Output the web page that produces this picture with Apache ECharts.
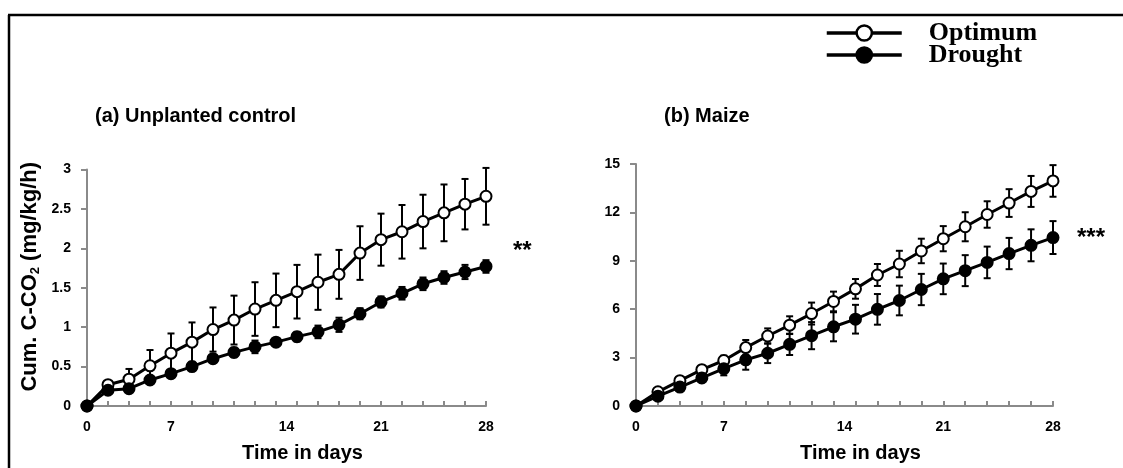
<!DOCTYPE html>
<html>
<head>
<meta charset="utf-8">
<script src="https://cdn.jsdelivr.net/npm/echarts@6/dist/echarts.min.js"></script>
<style>
  html, body { margin: 0; padding: 0; background: #fff; }
  #chart { width: 1123px; height: 468px; }
</style>
</head>
<body>
<div id="chart"></div>
<script>
// sampling points (20 per series), labelled on the axis as days
const sampleIdx = [0, 1, 2, 3, 4, 5, 6, 7, 8, 9, 10, 11, 12, 13, 14, 15, 16, 17, 18, 19]
const dayTickAt = [0, 4, 9.5, 14, 19]
const dayTickText = ['0', '7', '14', '21', '28']

// (a) Unplanted control
const ctrlOptimum = [0, 0.27, 0.34, 0.51, 0.67, 0.81, 0.97, 1.09, 1.23, 1.34, 1.45, 1.57, 1.67, 1.94, 2.11, 2.21, 2.34, 2.45, 2.56, 2.66]
const ctrlOptimumErr = [0, 0.04, 0.13, 0.2, 0.25, 0.25, 0.28, 0.31, 0.34, 0.34, 0.34, 0.35, 0.31, 0.34, 0.33, 0.34, 0.34, 0.36, 0.32, 0.36]
const ctrlDrought = [0, 0.2, 0.22, 0.33, 0.41, 0.5, 0.6, 0.68, 0.75, 0.81, 0.88, 0.94, 1.03, 1.17, 1.32, 1.43, 1.55, 1.63, 1.7, 1.77]
const ctrlDroughtErr = [0, 0.03, 0.03, 0.04, 0.05, 0.05, 0.05, 0.06, 0.08, 0.05, 0.06, 0.08, 0.09, 0.07, 0.07, 0.08, 0.08, 0.08, 0.09, 0.08]

// (b) Maize
const maizeOptimum = [0, 0.88, 1.57, 2.25, 2.82, 3.62, 4.34, 5.01, 5.73, 6.48, 7.26, 8.12, 8.8, 9.61, 10.37, 11.11, 11.87, 12.58, 13.3, 13.95]
const maizeOptimumErr = [0, 0.15, 0.2, 0.25, 0.3, 0.47, 0.47, 0.55, 0.68, 0.61, 0.61, 0.68, 0.82, 0.76, 0.78, 0.9, 0.82, 0.86, 0.96, 0.98]
const maizeDrought = [0, 0.61, 1.17, 1.74, 2.31, 2.86, 3.27, 3.82, 4.36, 4.91, 5.38, 5.99, 6.54, 7.22, 7.88, 8.39, 8.9, 9.45, 9.96, 10.44]
const maizeDroughtErr = [0, 0.15, 0.2, 0.25, 0.41, 0.61, 0.61, 0.66, 0.84, 0.9, 0.89, 0.95, 0.92, 0.97, 0.95, 0.96, 0.98, 0.97, 0.99, 1.02]

const axisGrey = '#8a8a8a'
const boldSans = { fontFamily: 'Liberation Sans, Arial, sans-serif', fontWeight: 'bold', color: '#000' }

function pairs(ys) {
  return sampleIdx.map((x, i) => [x, ys[i]])
}
function errData(ys, es) {
  return sampleIdx.map((x, i) => [x, ys[i], es[i]])
}

function renderErr(params, api) {
  const x = api.value(0), y = api.value(1), e = api.value(2)
  if (!e) return null
  const top = api.coord([x, y + e])
  const bot = api.coord([x, y - e])
  const cap = 3.5
  const style = { stroke: '#000', lineWidth: 2 }
  return {
    type: 'group',
    children: [
      { type: 'line', shape: { x1: top[0], y1: top[1], x2: bot[0], y2: bot[1] }, style },
      { type: 'line', shape: { x1: top[0] - cap, y1: top[1], x2: top[0] + cap, y2: top[1] }, style },
      { type: 'line', shape: { x1: bot[0] - cap, y1: bot[1], x2: bot[0] + cap, y2: bot[1] }, style }
    ]
  }
}

function xAxisFor(gridIndex) {
  return {
    gridIndex,
    type: 'value',
    min: 0,
    max: 19,
    name: 'Time in days',
    nameLocation: 'middle',
    nameGap: 37,
    nameTextStyle: Object.assign({ fontSize: 20, padding: [0, 0, 0, 32] }, boldSans),
    axisLine: { lineStyle: { color: axisGrey, width: 2 } },
    axisTick: { inside: true, length: 5, customValues: sampleIdx, lineStyle: { color: axisGrey, width: 2 } },
    axisLabel: {
      customValues: dayTickAt,
      margin: 14,
      fontSize: 14,
      fontWeight: 'bold',
      fontFamily: boldSans.fontFamily,
      color: '#000',
      formatter: (v) => dayTickText[dayTickAt.indexOf(v)] || ''
    },
    splitLine: { show: false }
  }
}

function yAxisFor(gridIndex, max, interval, name) {
  return {
    gridIndex,
    type: 'value',
    min: 0,
    max,
    interval,
    name,
    nameLocation: 'middle',
    nameGap: 45,
    nameRotate: 90,
    nameTextStyle: Object.assign({
      fontSize: 22,
      padding: [0, 0, 0, 22],
      rich: {
        sub: { fontSize: 13, fontWeight: 'bold', fontFamily: boldSans.fontFamily, color: '#000', verticalAlign: 'bottom', padding: [11, 0, 0, 0] }
      }
    }, boldSans),
    axisLine: { show: true, lineStyle: { color: axisGrey, width: 2 } },
    axisTick: { show: true, length: 6, lineStyle: { color: axisGrey, width: 2 } },
    axisLabel: { fontSize: 14, fontWeight: 'bold', fontFamily: boldSans.fontFamily, color: '#000', margin: 16 },
    splitLine: { show: false }
  }
}

function lineSeries(name, ys, idx, filled) {
  return {
    name,
    type: 'line',
    xAxisIndex: idx,
    yAxisIndex: idx,
    data: pairs(ys),
    symbol: 'circle',
    symbolSize: 11,
    z: 3,
    lineStyle: { color: '#000', width: 3 },
    itemStyle: { color: filled ? '#000' : '#fff', borderColor: '#000', borderWidth: 2 }
  }
}

function errSeries(name, ys, es, idx) {
  return {
    name: name + ' SE',
    type: 'custom',
    xAxisIndex: idx,
    yAxisIndex: idx,
    data: errData(ys, es),
    renderItem: renderErr,
    z: 2,
    silent: true
  }
}

const chart = echarts.init(document.getElementById('chart'))
chart.setOption({
  animation: false,
  backgroundColor: '#fff',
  title: [
    { text: '(a) Unplanted control', left: 95, top: 106, padding: 0, textStyle: Object.assign({ fontSize: 20 }, boldSans) },
    { text: '(b) Maize', left: 664, top: 106, padding: 0, textStyle: Object.assign({ fontSize: 20 }, boldSans) }
  ],
  legend: {
    data: ['Optimum', 'Drought'],
    orient: 'vertical',
    left: 825,
    top: 20,
    padding: 0,
    itemWidth: 75,
    itemHeight: 19,
    itemGap: -4,
    lineStyle: { width: 3.5, color: '#000' },
    itemStyle: { borderWidth: 2.5 },
    textStyle: { fontFamily: 'Liberation Serif, Times New Roman, serif', fontWeight: 'bold', fontSize: 26, lineHeight: 19, color: '#000', padding: [0, 0, 0, 22] }
  },
  grid: [
    { left: 87, right: 637, top: 169.5, bottom: 61.3 },
    { left: 636, right: 70, top: 164, bottom: 59.7 }
  ],
  xAxis: [xAxisFor(0), xAxisFor(1)],
  yAxis: [
    yAxisFor(0, 3, 0.5, 'Cum. C-CO{sub|2} (mg/kg/h)'),
    yAxisFor(1, 15, 3, '')
  ],
  series: [
    errSeries('Optimum', ctrlOptimum, ctrlOptimumErr, 0),
    errSeries('Drought', ctrlDrought, ctrlDroughtErr, 0),
    lineSeries('Optimum', ctrlOptimum, 0, false),
    lineSeries('Drought', ctrlDrought, 0, true),
    errSeries('Optimum', maizeOptimum, maizeOptimumErr, 1),
    errSeries('Drought', maizeDrought, maizeDroughtErr, 1),
    lineSeries('Optimum', maizeOptimum, 1, false),
    lineSeries('Drought', maizeDrought, 1, true)
  ],
  graphic: [
    { type: 'line', shape: { x1: 9, y1: 15, x2: 9, y2: 468 }, style: { stroke: '#000', lineWidth: 2.5 } },
    { type: 'line', shape: { x1: 8, y1: 15, x2: 1123, y2: 15 }, style: { stroke: '#000', lineWidth: 2.5 } },
    { type: 'text', left: 513, top: 239, style: { text: '**', fontSize: 24, fontFamily: boldSans.fontFamily, fontWeight: 'bold', fill: '#000' } },
    { type: 'text', left: 1077, top: 226, style: { text: '***', fontSize: 24, fontFamily: boldSans.fontFamily, fontWeight: 'bold', fill: '#000' } }
  ]
})
</script>
</body>
</html>
